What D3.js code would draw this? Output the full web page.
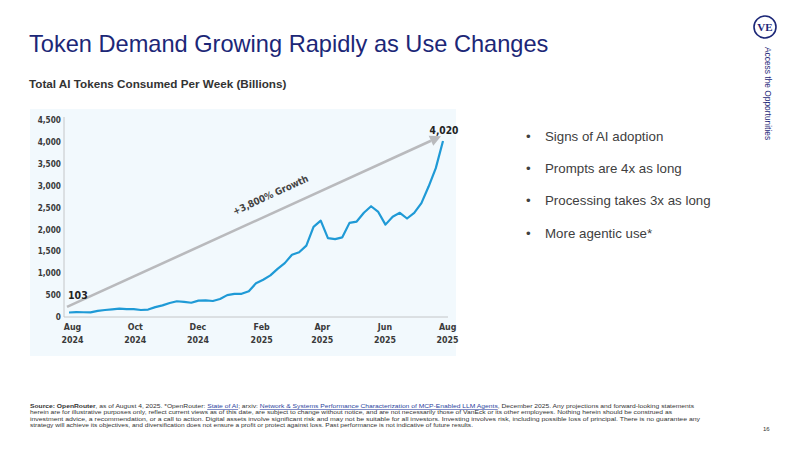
<!DOCTYPE html>
<html>
<head>
<meta charset="utf-8">
<script src="https://cdn.jsdelivr.net/npm/d3@7"></script>
<style>
  body { margin: 0; background: #fff; }
  svg { display: block; font-family: "Liberation Sans", Arial, sans-serif; }
</style>
</head>
<body>
<svg id="slide" width="800" height="450"></svg>
<script>
// weekly token totals (billions)
var startWeek = "2024-07-29";
var tokens = [103, 110, 108, 105, 140, 160, 175, 190, 180, 180, 160, 170, 225, 265, 320, 360,
    345, 325, 375, 380, 365, 410, 500, 530, 530, 590, 770, 850, 950, 1100, 1230, 1420, 1480,
    1630, 2060, 2200, 1800, 1780, 1820, 2150, 2180, 2380, 2530, 2400, 2110, 2290, 2380, 2250,
    2380, 2600, 2980, 3400, 4020];
var tickMonths = ["2024-08-01", "2024-10-01", "2024-12-01", "2025-02-01", "2025-04-01", "2025-06-01", "2025-08-01"];
var yTicks = [0, 500, 1000, 1500, 2000, 2500, 3000, 3500, 4000, 4500];
var bullets = ["Signs of AI adoption", "Prompts are 4x as long", "Processing takes 3x as long", "More agentic use*"];
var growthLabel = "+3,800% Growth";
var arrowFrom = 230, arrowTo = 4130;

var navy = "#1c2777";
var lineBlue = "#1f9ad6";
var narrow = '"Liberation Sans Narrow", "DejaVu Sans Condensed", "Roboto", sans-serif';

var parse = d3.timeParse("%Y-%m-%d");
var start = parse(startWeek);
var data = tokens.map(function(v, i) {
    return { date: d3.timeWeek.offset(start, i), value: v };
});

var svg = d3.select("#slide");

// title + subtitle
svg.append("text")
    .attr("x", 29).attr("y", 52)
    .attr("fill", navy)
    .style("font-size", "23.6px")
    .text("Token Demand Growing Rapidly as Use Changes");

svg.append("text")
    .attr("x", 29).attr("y", 88)
    .attr("fill", "#333")
    .style("font-size", "11.7px")
    .style("font-weight", "bold")
    .text("Total AI Tokens Consumed Per Week (Billions)");

// chart panel
svg.append("rect")
    .attr("x", 30).attr("y", 109)
    .attr("width", 426).attr("height", 247)
    .attr("fill", "#f2f9fd");

var xScale = d3.scaleTime()
    .domain([data[0].date, data[data.length - 1].date])
    .range([69, 443]);
var yScale = d3.scaleLinear().domain([0, 4500]).range([317, 120]);

// axis lines
svg.append("line")
    .attr("x1", 64).attr("x2", 64)
    .attr("y1", yScale(4500) - 3).attr("y2", yScale(0))
    .attr("stroke", "#c4c6c8").attr("stroke-width", 1);
svg.append("line")
    .attr("x1", 64).attr("x2", 448)
    .attr("y1", yScale(0)).attr("y2", yScale(0))
    .attr("stroke", "#c4c6c8").attr("stroke-width", 1);

// y axis labels
var yAxis = d3.axisLeft(yScale)
    .tickValues(yTicks)
    .tickSize(0)
    .tickPadding(0)
    .tickFormat(d3.format(","));
var gy = svg.append("g")
    .attr("transform", "translate(61,0)")
    .call(yAxis);
gy.select(".domain").remove();
gy.selectAll("text")
    .attr("fill", "#3a3a3a")
    .style("font-family", narrow)
    .style("font-size", "8.2px")
    .style("font-weight", "bold");

// x axis labels (month / year on two lines)
var fmtMonth = d3.timeFormat("%b"), fmtYear = d3.timeFormat("%Y");
var xAxis = d3.axisBottom(xScale)
    .tickValues(tickMonths.map(parse))
    .tickSize(0)
    .tickPadding(0)
    .tickFormat("");
var gx = svg.append("g")
    .attr("transform", "translate(0," + yScale(0) + ")")
    .call(xAxis);
gx.select(".domain").remove();
gx.selectAll(".tick text").remove();
gx.selectAll(".tick").each(function(d) {
    var t = d3.select(this).append("text")
        .attr("text-anchor", "middle")
        .attr("fill", "#3a3a3a")
        .style("font-family", narrow)
        .style("font-size", "8.8px")
        .style("font-weight", "bold");
    t.append("tspan").attr("x", 0).attr("y", 13).text(fmtMonth(d));
    t.append("tspan").attr("x", 0).attr("y", 26).text(fmtYear(d));
});

// growth arrow
var first = data[0], last = data[data.length - 1];
var ax1 = xScale(first.date) - 2, ay1 = yScale(arrowFrom);
var ax2 = xScale(last.date) - 2, ay2 = yScale(arrowTo);
var ang = Math.atan2(ay2 - ay1, ax2 - ax1);
var headLen = 11, headW = 5.5;
svg.append("line")
    .attr("x1", ax1).attr("y1", ay1)
    .attr("x2", ax2 - headLen * Math.cos(ang)).attr("y2", ay2 - headLen * Math.sin(ang))
    .attr("stroke", "#b9babd").attr("stroke-width", 2.6);
var bx = ax2 - headLen * Math.cos(ang), by = ay2 - headLen * Math.sin(ang);
svg.append("path")
    .attr("d", "M" + ax2 + "," + ay2 +
        "L" + (bx + headW * Math.sin(ang)) + "," + (by - headW * Math.cos(ang)) +
        "L" + (bx - headW * Math.sin(ang)) + "," + (by + headW * Math.cos(ang)) + "Z")
    .attr("fill", "#b9babd");

svg.append("text")
    .attr("transform", "translate(272,198) rotate(" + (ang * 180 / Math.PI) + ")")
    .attr("text-anchor", "middle")
    .attr("fill", "#444")
    .style("font-family", narrow)
    .style("font-size", "9.6px")
    .style("font-weight", "bold")
    .text(growthLabel);

// token line
var line = d3.line()
    .x(function(d) { return xScale(d.date); })
    .y(function(d) { return yScale(d.value); });
svg.append("path")
    .datum(data)
    .attr("d", line)
    .attr("fill", "none")
    .attr("stroke", lineBlue)
    .attr("stroke-width", 2.2)
    .attr("stroke-linejoin", "round");

// end point labels
svg.append("text")
    .attr("x", xScale(first.date) - 1).attr("y", 299)
    .attr("fill", "#222")
    .style("font-family", narrow)
    .style("font-size", "10.5px")
    .style("font-weight", "bold")
    .text(d3.format(",")(first.value));
svg.append("text")
    .attr("x", xScale(last.date) + 1).attr("y", 134)
    .attr("text-anchor", "middle")
    .attr("fill", "#222")
    .style("font-family", narrow)
    .style("font-size", "10.2px")
    .style("font-weight", "bold")
    .text(d3.format(",")(last.value));

// bullets
var gb = svg.append("g");
bullets.forEach(function(b, i) {
    var y = 141 + i * 32.2;
    gb.append("text").attr("x", 526).attr("y", y)
        .attr("fill", "#404040").style("font-size", "13.3px").text("\u2022");
    gb.append("text").attr("x", 545).attr("y", y)
        .attr("fill", "#404040").style("font-size", "13.3px").text(b);
});

// logo + side label
svg.append("circle")
    .attr("cx", 765).attr("cy", 27).attr("r", 11)
    .attr("fill", "#fff").attr("stroke", navy).attr("stroke-width", 1.6);
svg.append("text")
    .attr("x", 765).attr("y", 31)
    .attr("text-anchor", "middle")
    .attr("fill", navy)
    .style("font-family", '"Liberation Serif", "DejaVu Serif", serif')
    .style("font-size", "11px")
    .style("font-weight", "bold")
    .text("VE");
svg.append("text")
    .attr("transform", "translate(765,47) rotate(90)")
    .attr("fill", navy)
    .style("font-size", "8.4px")
    .text("Access the Opportunities");

// footnote
var footLines = [
    null,
    "herein are for illustrative purposes only, reflect current views as of this date, are subject to change without notice, and are not necessarily those of VanEck or its other employees. Nothing herein should be construed as",
    "investment advice, a recommendation, or a call to action. Digital assets involve significant risk and may not be suitable for all investors. Investing involves risk, including possible loss of principal. There is no guarantee any",
    "strategy will achieve its objectives, and diversification does not ensure a profit or protect against loss. Past performance is not indicative of future results."
];
var footWidths = [664, 642, 670, 443];
var foot = svg.append("g").style("font-size", "5.8px").attr("fill", "#333");
var l1 = foot.append("text").attr("x", 30).attr("y", 408)
    .attr("textLength", footWidths[0]).attr("lengthAdjust", "spacingAndGlyphs");
l1.append("tspan").style("font-weight", "bold").text("Source: OpenRouter");
l1.append("tspan").text(", as of August 4, 2025. *OpenRouter: ");
l1.append("tspan").attr("fill", "#2b3f9e").attr("text-decoration", "underline").text("State of AI");
l1.append("tspan").text("; arxiv: ");
l1.append("tspan").attr("fill", "#2b3f9e").attr("text-decoration", "underline")
    .text("Network & Systems Performance Characterization of MCP-Enabled LLM Agents");
l1.append("tspan").text(", December 2025. Any projections and forward-looking statements");
footLines.forEach(function(t, i) {
    if (!t) return;
    foot.append("text").attr("x", 30).attr("y", 408 + i * 6.4)
        .attr("textLength", footWidths[i]).attr("lengthAdjust", "spacingAndGlyphs")
        .text(t);
});
svg.append("text")
    .attr("x", 763).attr("y", 431)
    .attr("fill", "#333")
    .style("font-size", "6px")
    .text("16");
</script>
</body>
</html>
